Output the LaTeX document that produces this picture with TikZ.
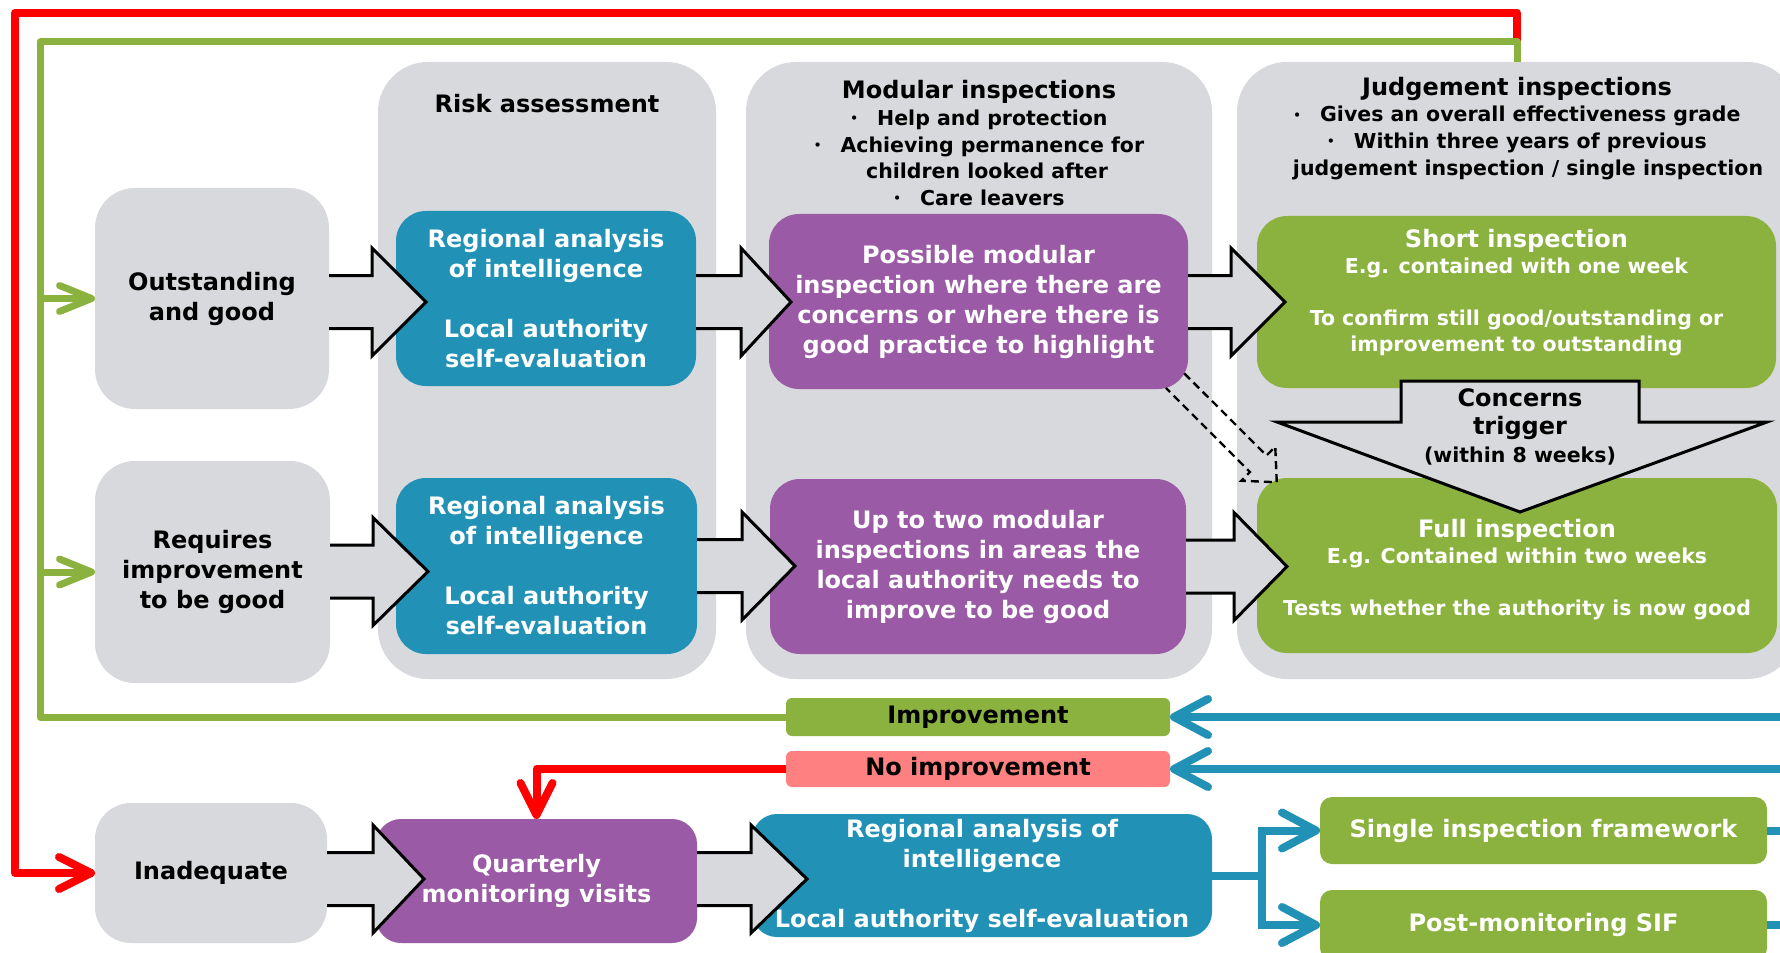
\documentclass[tikz,border=0pt]{standalone}
\usepackage{fontspec}
\setmainfont{DejaVu Sans}
\usetikzlibrary{arrows.meta,calc}

\definecolor{panel}{RGB}{216,217,220}
\definecolor{tealbox}{RGB}{33,146,182}
\definecolor{plum}{RGB}{155,90,165}
\definecolor{leaf}{RGB}{139,178,63}
\definecolor{alarm}{RGB}{255,0,0}
\definecolor{salmon}{RGB}{255,128,128}

% small raised bullet used in the column headings
\newcommand\bulletmark{\raisebox{1.4pt}{\fontsize{6}{6}\selectfont •}\hspace{9.5pt}}

% grey block arrow leaving the east side of a box
% #1 source node, #2 vertical offset, #3 head base, #4 tip (all relative to #1.east)
\newcommand\fatarrow[4]{%
  \begin{scope}[shift={(#1.east)}]
    \filldraw[fatarrow] (0,#2-26.5) -- (#3,#2-26.5) -- (#3,#2-54) -- (#4,#2)
      -- (#3,#2+54) -- (#3,#2+26.5) -- (0,#2+26.5);
  \end{scope}}

\begin{document}
\begin{tikzpicture}[x=0.5pt,y=-0.5pt,
  every node/.style={inner sep=0pt,outer sep=0pt},
  column/.style={fill=panel,rounded corners=25pt},
  state/.style={fill=panel,rounded corners=20pt,align=center,text=black,
    font=\bfseries\fontsize{12}{15}\selectfont},
  flowbox/.style={fill=#1,rounded corners=15pt,align=center,text=white,
    font=\bfseries\fontsize{12}{15}\selectfont},
  tag/.style={fill=#1,rounded corners=3pt,align=center,text=black,
    font=\bfseries\fontsize{12}{15}\selectfont},
  headtext/.style={align=center,text=black,font=\bfseries\fontsize{12}{15}\selectfont},
  bulletblock/.style={align=center,text=black,font=\bfseries\fontsize{10.25}{13.3}\selectfont},
  smalltext/.style={align=center,text=white,font=\bfseries\fontsize{10.25}{13}\selectfont},
  fatarrow/.style={fill=panel,draw=black,line width=1.5pt,line join=miter},
  dashedarrow/.style={draw=black,line width=1.2pt,dash pattern=on 4pt off 2.5pt},
  greenline/.style={draw=leaf,line width=3.5pt},
  redline/.style={draw=alarm,line width=4pt},
  blueline/.style={draw=tealbox,line width=4pt},
  greentip/.style={-{Straight Barb[length=16pt,width=13pt,round]}},
  redtip/.style={-{Straight Barb[length=16pt,width=16pt,round]}},
  bluetip/.style={-{Straight Barb[length=17pt,width=18pt,round]}}
]
\useasboundingbox (0,0) rectangle (1780,952);
\clip (0,0) rectangle (1780,952);
\fill[white] (0,0) rectangle (1780,952);

% ---- stage columns ----
\node[column,minimum width=169pt,minimum height=308.5pt] (colRisk) at (547,370.5) {};
\node[column,minimum width=233pt,minimum height=308.5pt] (colMod) at (979,370.5) {};
\node[column,minimum width=280pt,minimum height=308.5pt] (colJud) at (1517,370.5) {};

\node[headtext,anchor=base] (riskHead) at (547,113) {Risk assessment};
\node[bulletblock] (modHead) at (979,143.1)
  {{\fontsize{12}{13.3}\selectfont Modular inspections}\\
   \bulletmark Help and protection\\
   \bulletmark Achieving permanence for\\
   \hspace*{8pt}children looked after\\
   \bulletmark Care leavers};
\node[bulletblock] (judHead) at (1517,128.2)
  {{\fontsize{12}{13.3}\selectfont Judgement inspections}\\
   \bulletmark Gives an overall effectiveness grade\\
   \bulletmark Within three years of previous\\
   \hspace*{11pt}judgement inspection / single inspection};

% ---- current grades ----
\node[state,minimum width=117pt,minimum height=110.5pt] (outGood) at (212,298.5) {Outstanding\\and good};
\node[state,minimum width=117.5pt,minimum height=111pt] (reqImp) at (212.5,572) {Requires\\improvement\\to be good};
\node[state,minimum width=116pt,minimum height=70pt,rounded corners=18pt] (inadequate) at (211,873) {Inadequate};

% ---- process boxes ----
\node[flowbox=tealbox,minimum width=150pt,minimum height=87.5pt] (blueA) at (546,298.5)
  {Regional analysis\\of intelligence\\[15pt]Local authority\\self-evaluation};
\node[flowbox=tealbox,minimum width=150.5pt,minimum height=88pt] (blueB) at (546.5,566)
  {Regional analysis\\of intelligence\\[15pt]Local authority\\self-evaluation};
\node[flowbox=plum,minimum width=209.5pt,minimum height=87.5pt] (purpleA) at (978.5,301.5)
  {Possible modular\\inspection where there are\\concerns or where there is\\good practice to highlight};
\node[flowbox=plum,minimum width=208pt,minimum height=87.5pt] (purpleB) at (978,566.5)
  {Up to two modular\\inspections in areas the\\local authority needs to\\improve to be good};
\node[flowbox=leaf,minimum width=259.5pt,minimum height=86pt] (shortBox) at (1516.5,302) {};
\node[flowbox=leaf,minimum width=260pt,minimum height=87.5pt] (fullBox) at (1517,565.5) {};

\node[flowbox=plum,minimum width=160.5pt,minimum height=62pt,rounded corners=12.5pt] (quarterly) at (536.5,881)
  {Quarterly\\monitoring visits};
\node[flowbox=tealbox,minimum width=230pt,minimum height=61.5pt,rounded corners=12.5pt] (blueC) at (982,875.5)
  {Regional analysis of\\intelligence\\[15pt]Local authority self-evaluation};
\node[flowbox=leaf,minimum width=223.5pt,minimum height=33.5pt,rounded corners=6pt] (singleBox) at (1543.5,830.5)
  {Single inspection framework};
\node[flowbox=leaf,minimum width=223.5pt,minimum height=35pt,rounded corners=6pt] (postBox) at (1543.5,925)
  {Post-monitoring SIF};

\node[tag=leaf,minimum width=192pt,minimum height=19pt] (improvementBox) at (978,717) {Improvement};
\node[tag=salmon,minimum width=192pt,minimum height=18pt] (noImpBox) at (978,769) {No improvement};

% ---- block arrows between stages ----
\fatarrow{outGood}{3.5}{43}{97}
\fatarrow{blueA}{3.5}{45}{95}
\fatarrow{purpleA}{0.5}{43}{97}
\fatarrow{reqImp}{-0.5}{43}{98}
\fatarrow{blueB}{0}{45}{98}
\fatarrow{purpleB}{0}{48}{101}
\fatarrow{inadequate}{6}{46}{97}
\fatarrow{quarterly}{-2}{54}{110}

% concerns trigger: short inspection down to full inspection
\begin{scope}[shift={(shortBox.south)}]
  \filldraw[fatarrow] (-115.5,-7) -- (122.5,-7) -- (122.5,34) -- (250.5,34)
    -- (3.5,124) -- (-239.5,34) -- (-115.5,34) -- cycle;
\end{scope}
\node[align=center,text=black,font=\bfseries\fontsize{10.25}{14}\selectfont] (concernText) at (1520,426.6)
  {{\fontsize{12}{14}\selectfont Concerns}\\{\fontsize{12}{14}\selectfont trigger}\\(within 8 weeks)};

% possible escalation from a modular inspection to a full inspection
\begin{scope}[shift={(purpleA.south east)}]
  \draw[dashedarrow] (-3.7,-15.6) -- (78.5,66.5) -- (87.25,57.75) -- (88.75,93.25)
    -- (53.25,91.75) -- (62,83) -- (-22.1,-1.1);
\end{scope}

% texts of the judgement boxes
\node[smalltext] (shortText) at (1516.5,292.3)
  {{\fontsize{12}{13}\selectfont Short inspection}\\E.g. contained with one week\\[13pt]To confirm still good/outstanding or\\improvement to outstanding};
\node[smalltext] (fullText) at (1517,569.3)
  {{\fontsize{12}{13}\selectfont Full inspection}\\E.g. Contained within two weeks\\[13pt]Tests whether the authority is now good};

% ---- feedback loops ----
\coordinate (gcorner) at (40,42);
\coordinate (rcorner) at (15,13);
\coordinate (gtop) at (1517,42);
\coordinate (gx) at (40,0);
\coordinate (edgeR) at (1790,0);

\draw[redline,line join=round] (gtop) |- (rcorner) |- ($(inadequate.west)+(-2,0)$);
\draw[redline,redtip] ($(inadequate.west)+(-30,0)$) -- (inadequate.west);
\draw[redline,redtip,line join=round] (noImpBox.west) -| (quarterly.north);

\draw[greenline,line join=round] (improvementBox.west) -| (gcorner) -| (colJud.north);
\draw[greenline,greentip] (outGood.west -| gx) -- (outGood.west);
\draw[greenline,greentip] (reqImp.west -| gx) -- (reqImp.west);

\draw[blueline,bluetip] (improvementBox.east -| edgeR) -- (improvementBox.east);
\draw[blueline,bluetip] (noImpBox.east -| edgeR) -- (noImpBox.east);
\draw[blueline] (blueC.east) -- ++(50,0) coordinate (fork);
\draw[blueline,bluetip] (fork) |- (singleBox.west);
\draw[blueline,bluetip] (fork) |- (postBox.west);
\draw[blueline] (singleBox.east) -- (singleBox.east -| edgeR);
\draw[blueline] (postBox.east) -- (postBox.east -| edgeR);
\end{tikzpicture}
\end{document}
